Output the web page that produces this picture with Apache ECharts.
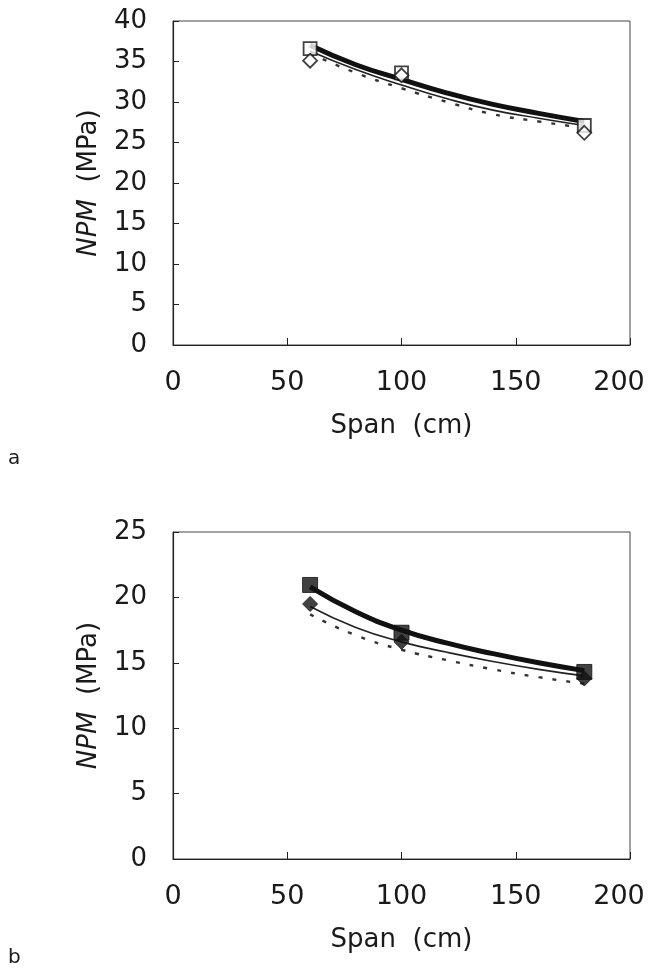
<!DOCTYPE html>
<html>
<head>
<meta charset="utf-8">
<script src="https://cdn.jsdelivr.net/npm/echarts@6/dist/echarts.min.js"></script>
<style>
  html, body { margin: 0; padding: 0; background: #fff; }
  #chart { width: 655px; height: 975px; }
</style>
</head>
<body>
<div id="chart"></div>
<script>
// Span values (cm) at which the fitted curves are traced
const fitSpans = [60, 80, 100, 120, 140, 160, 180];
const testSpans = [60, 100, 180];

// Panel a: measured NPM (MPa), open markers
const aSquare = [36.6, 33.6, 27.1];
const aDiamond = [35.1, 33.3, 26.2];
// Panel a: fitted curves
const aFitThick = [37.0, 34.6, 32.8, 31.1, 29.7, 28.6, 27.6];
const aFitThin = [36.3, 34.0, 32.1, 30.4, 29.0, 28.0, 27.1];
const aFitDash = [36.0, 33.6, 31.7, 30.0, 28.5, 27.6, 26.8];

// Panel b: measured NPM (MPa), filled markers
const bSquare = [20.95, 17.3, 14.3];
const bDiamond = [19.5, 16.6, 13.8];
// Panel b: fitted curves
const bFitThick = [20.8, 18.9, 17.5, 16.5, 15.7, 15.0, 14.4];
const bFitThin = [19.3, 17.7, 16.6, 15.8, 15.1, 14.5, 14.0];
const bFitDash = [18.7, 17.1, 16.0, 15.2, 14.5, 13.9, 13.4];

// Axis ranges and tick labels
const xTicks = [0, 50, 100, 150, 200];
const aYTicks = [0, 5, 10, 15, 20, 25, 30, 35, 40];
const bYTicks = [0, 5, 10, 15, 20, 25];

const FONT = 'DejaVu Sans';
const ink = '#1a1a1a';

const pairs = (xs, ys) => xs.map((x, i) => [x, ys[i]]);
const xMax = xTicks[xTicks.length - 1];

function xAxisFor(gridIndex) {
  return {
    type: 'value', gridIndex,
    min: xTicks[0], max: xMax, interval: 50,
    name: 'Span  (cm)', nameLocation: 'middle', nameGap: 68,
    nameTextStyle: { fontFamily: FONT, fontSize: 26, color: ink },
    axisLine: { show: true, lineStyle: { color: '#222', width: 1.2 } },
    axisTick: { show: true, inside: true, length: 7, lineStyle: { color: '#222' } },
    axisLabel: {
      fontFamily: FONT, fontSize: 27, color: ink, margin: 24,
      // last label is pulled in so it stays on the page
      formatter: v => (v === xMax ? '{edge|' + v + '}' : String(v)),
      rich: { edge: { fontFamily: FONT, fontSize: 27, color: ink, padding: [0, 22, 0, 0] } }
    },
    splitLine: { show: false }
  };
}

function yAxisFor(gridIndex, ticks) {
  return {
    type: 'value', gridIndex,
    min: ticks[0], max: ticks[ticks.length - 1], interval: 5,
    name: '{i|NPM}  (MPa)', nameLocation: 'middle', nameGap: 71,
    nameTextStyle: {
      fontFamily: FONT, fontSize: 26, color: ink,
      rich: { i: { fontFamily: FONT, fontSize: 26, fontStyle: 'italic', color: ink } }
    },
    axisLine: { show: true, lineStyle: { color: '#222', width: 1.2 } },
    axisTick: { show: true, inside: true, length: 6, lineStyle: { color: '#222' } },
    axisLabel: { fontFamily: FONT, fontSize: 26, color: ink, margin: 26 },
    splitLine: { show: false }
  };
}

function fitLine(xi, yi, data, style) {
  return {
    type: 'line', xAxisIndex: xi, yAxisIndex: yi,
    data: pairs(fitSpans, data), smooth: true, showSymbol: false, symbol: 'none',
    lineStyle: style, z: 2, silent: true
  };
}

function marks(xi, yi, data, symbol, size, filled) {
  return {
    type: 'scatter', xAxisIndex: xi, yAxisIndex: yi,
    data: pairs(testSpans, data), symbol, symbolSize: size,
    itemStyle: filled
      ? { color: '#111', borderColor: '#111', borderWidth: 1 }
      : { color: '#fff', borderColor: '#111', borderWidth: 1.8 },
    z: 3
  };
}

const thick = { color: '#111', width: 5 };
const thin = { color: '#222', width: 1.6 };
const dash = { color: '#333', width: 2.4, type: [4, 10] };

const gridBase = {
  left: 173, width: 457, show: true, borderColor: '#444', borderWidth: 1,
  backgroundColor: 'transparent', containLabel: false, outerBoundsMode: 'none'
};

const chart = echarts.init(document.getElementById('chart'), null, { renderer: 'canvas' });
chart.setOption({
  backgroundColor: '#fff',
  animation: false,
  grid: [
    Object.assign({}, gridBase, { top: 21, height: 324 }),
    Object.assign({}, gridBase, { top: 532, height: 327 })
  ],
  xAxis: [xAxisFor(0), xAxisFor(1)],
  yAxis: [yAxisFor(0, aYTicks), yAxisFor(1, bYTicks)],
  graphic: [
    { type: 'text', left: 8, top: 449, style: { text: 'a', fontFamily: FONT, fontSize: 20, fill: ink } },
    { type: 'text', left: 8, top: 948, style: { text: 'b', fontFamily: FONT, fontSize: 20, fill: ink } }
  ],
  series: [
    fitLine(0, 0, aFitDash, dash),
    fitLine(0, 0, aFitThin, thin),
    fitLine(0, 0, aFitThick, thick),
    marks(0, 0, aSquare, 'rect', 13, false),
    marks(0, 0, aDiamond, 'diamond', 14, false),

    fitLine(1, 1, bFitDash, dash),
    fitLine(1, 1, bFitThin, thin),
    fitLine(1, 1, bFitThick, thick),
    marks(1, 1, bSquare, 'rect', 15, true),
    marks(1, 1, bDiamond, 'diamond', 15, true)
  ]
});
</script>
</body>
</html>
